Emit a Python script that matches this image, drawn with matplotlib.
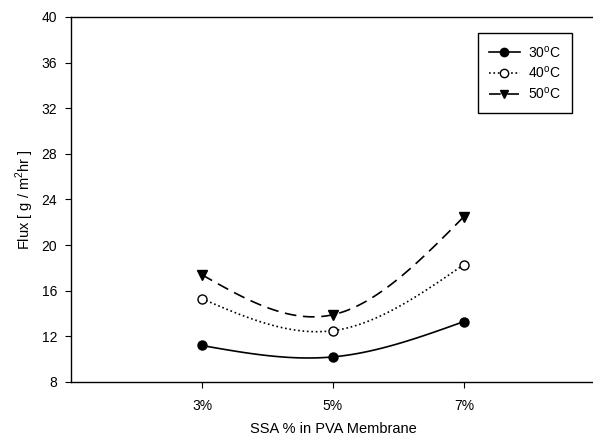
import numpy as np
import matplotlib
matplotlib.use("Agg")
import matplotlib.pyplot as plt

plt.rcParams["font.family"] = ["Liberation Sans", "DejaVu Sans"]

# ── Data ──────────────────────────────────────────────────────────────────────
ssa_labels = ["3%", "5%", "7%"]
ssa_pos    = [1, 2, 3]
flux_30 = [11.2, 10.2, 13.3]
flux_40 = [15.3, 12.5, 18.3]
flux_50 = [17.4, 13.9, 22.5]

series = [
    ("30$^{\\mathregular{o}}$C", flux_30, "-",  "o", "black"),
    ("40$^{\\mathregular{o}}$C", flux_40, ":",  "o", "white"),
    ("50$^{\\mathregular{o}}$C", flux_50, (0, (7, 4)), "v", "black"),
]


def natural_spline(x, y, n=60):
    """Natural cubic spline through evenly spaced points."""
    x = np.asarray(x, float)
    y = np.asarray(y, float)
    h = x[1] - x[0]
    k = len(x)
    # solve for second derivatives, M0 = Mn = 0
    A = np.zeros((k, k))
    b = np.zeros(k)
    A[0, 0] = A[-1, -1] = 1
    for i in range(1, k - 1):
        A[i, i - 1:i + 2] = [h, 4 * h, h]
        b[i] = 6 / h * (y[i + 1] - 2 * y[i] + y[i - 1])
    M = np.linalg.solve(A, b)
    xs, ys = [], []
    for i in range(k - 1):
        t = np.linspace(x[i], x[i + 1], n)
        s = (M[i] * (x[i + 1] - t) ** 3 / (6 * h) + M[i + 1] * (t - x[i]) ** 3 / (6 * h)
             + (y[i] / h - M[i] * h / 6) * (x[i + 1] - t)
             + (y[i + 1] / h - M[i + 1] * h / 6) * (t - x[i]))
        xs.append(t)
        ys.append(s)
    return np.concatenate(xs), np.concatenate(ys)


fig = plt.figure(figsize=(5.93, 4.41), dpi=100)
ax = fig.add_axes([0.1197, 0.1338, 0.8836, 0.8277])

for label, vals, ls, mk, mfc in series:
    xs, ys = natural_spline(ssa_pos, vals)
    ax.plot(xs, ys, color="black", linestyle=ls, linewidth=1.2)
    ax.plot(ssa_pos, vals, linestyle="none", marker=mk, markersize=6.5,
            markerfacecolor=mfc, markeredgecolor="black", markeredgewidth=1)
    # legend proxy
    ax.plot([], [], color="black", linestyle=ls, linewidth=1.2, marker=mk,
            markersize=6, markerfacecolor=mfc, markeredgecolor="black",
            label=label)

ax.set_xlim(0, 4)
ax.set_ylim(8, 40)
ax.set_yticks(np.arange(8, 41, 4))
ax.set_xticks(ssa_pos)
ax.set_xticklabels(ssa_labels)
ax.tick_params(axis="x", direction="out", length=4, pad=8, labelsize=10)
ax.tick_params(axis="y", direction="out", length=4, pad=6, labelsize=10)
ax.spines["right"].set_visible(False)
for s in ["left", "top", "bottom"]:
    ax.spines[s].set_linewidth(1.0)

ax.set_xlabel("SSA % in PVA Membrane", fontsize=10.5, labelpad=7)
ax.set_ylabel("Flux [ g / m$^{\\mathregular{2}}$hr ]", fontsize=10.5, labelpad=4)

leg = ax.legend(loc="upper right", bbox_to_anchor=(0.956, 0.956),
                borderaxespad=0, fancybox=False, framealpha=1,
                edgecolor="black", fontsize=10, handlelength=2.2,
                handletextpad=0.6, borderpad=0.8, labelspacing=0.35)
leg.get_frame().set_linewidth(1.0)

plt.savefig("out.png", dpi=100)
